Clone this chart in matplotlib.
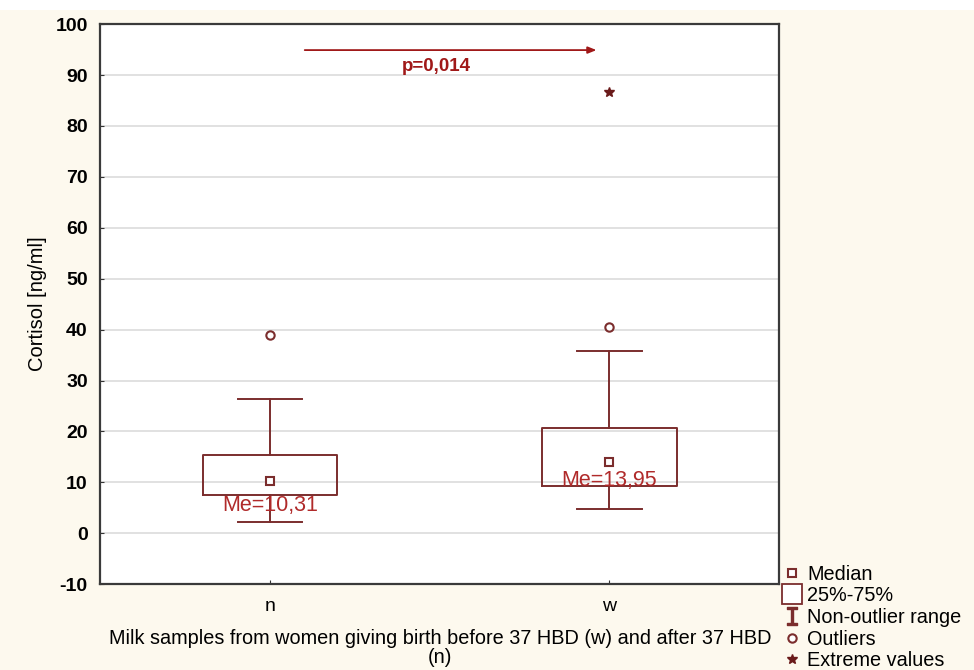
import matplotlib
matplotlib.use("Agg")
import matplotlib.pyplot as plt
from matplotlib.lines import Line2D
from matplotlib.patches import Rectangle

plt.rcParams['font.family'] = ['Liberation Sans', 'DejaVu Sans']
plt.rcParams['axes.unicode_minus'] = False

# donnees
groupes = ["n", "w"]
q1 = [7.6, 9.3]
q3 = [15.4, 20.6]
medianes = [10.31, 13.95]
moust_bas = [2.2, 4.8]
moust_haut = [26.3, 35.9]
outliers = [[38.9], [40.6]]
extremes = [[], [86.6]]
labels_me = ["Me=10,31", "Me=13,95"]
p_texte = "p=0,014"

brun = "#7b2d2d"
rouge = "#b02a2a"

fig = plt.figure(figsize=(9.74, 6.70), dpi=100, facecolor="#fdf9ee")
# bande blanche en haut de l'image
fig.patches.append(Rectangle((0, 0.985), 1, 0.015, transform=fig.transFigure,
                             facecolor="white", edgecolor="none", zorder=0))
ax = fig.add_axes([0.103, 0.128, 0.697, 0.836])
ax.set_facecolor("white")

stats = []
for i in range(len(groupes)):
    stats.append({"med": medianes[i], "q1": q1[i], "q3": q3[i],
                  "whislo": moust_bas[i], "whishi": moust_haut[i],
                  "fliers": outliers[i], "label": groupes[i]})

pos = [1, 2]
ax.bxp(stats, positions=pos, widths=0.395, showfliers=True,
       boxprops=dict(color=brun, linewidth=1.4),
       whiskerprops=dict(color=brun, linewidth=1.4),
       capprops=dict(color=brun, linewidth=1.4),
       medianprops=dict(linewidth=0),
       flierprops=dict(marker="o", markersize=6, markerfacecolor="white",
                       markeredgecolor=brun, markeredgewidth=1.5),
       capwidths=0.19, zorder=3)

# marqueur de la mediane
ax.plot(pos, medianes, ls="none", marker="s", markersize=5.5,
        markerfacecolor="white", markeredgecolor=brun, markeredgewidth=1.5, zorder=4)

# valeurs extremes
for i, ext in enumerate(extremes):
    if ext:
        ax.plot([pos[i]] * len(ext), ext, ls="none", marker="*", markersize=7.5,
                color="#6a1a1a", zorder=4)

# etiquettes des medianes
ax.text(pos[0], q1[0] - 2.1, labels_me[0], color=rouge, fontsize=15.5,
        ha="center", va="center", zorder=5)
ax.text(pos[1], q1[1] + 1.0, labels_me[1], color=rouge, fontsize=15.5,
        ha="center", va="center", zorder=5)

# fleche et p
ax.annotate("", xy=(1.97, 94.9), xytext=(1.094, 94.9),
            arrowprops=dict(arrowstyle="-|>,head_length=0.5,head_width=0.2",
                            color="#a01818", lw=1.3))
ax.text(1.49, 91.6, p_texte, color="#a01818", fontsize=13.5, fontweight="bold",
        ha="center", va="center")

ax.set_xlim(0.5, 2.5)
ax.set_ylim(-10, 100)
ax.set_yticks(range(-10, 101, 10))
ax.set_xticks(pos)
ax.set_xticklabels(groupes)
ax.yaxis.grid(True, color="#dcdcdc", linewidth=1.2)
ax.set_axisbelow(True)
ax.tick_params(axis="both", direction="in", length=3, color="#333333")
ax.tick_params(axis="y", labelsize=14, pad=9)
ax.tick_params(axis="x", labelsize=14, pad=10)
for lab in ax.get_yticklabels():
    lab.set_fontweight("bold")
for sp in ax.spines.values():
    sp.set_color("#3a3a3a")
    sp.set_linewidth(1.6)

ax.set_ylabel("Cortisol [ng/ml]", fontsize=14.5, labelpad=6)
ax.set_xlabel("Milk samples from women giving birth before 37 HBD (w) and after 37 HBD\n(n)",
              fontsize=14.3, labelpad=10, linespacing=1.0)

# legende
poignees = [
    Line2D([], [], ls="none", marker="s", markersize=5.5, markerfacecolor="white",
           markeredgecolor=brun, markeredgewidth=1.5),
    Line2D([], [], ls="none", marker="s", markersize=14, markerfacecolor="white",
           markeredgecolor=brun, markeredgewidth=1.3),
    Line2D([], [], ls="none", marker="$\\mathtt{I}$", markersize=13, color=brun),
    Line2D([], [], ls="none", marker="o", markersize=6, markerfacecolor="white",
           markeredgecolor=brun, markeredgewidth=1.5),
    Line2D([], [], ls="none", marker="*", markersize=7.5, color="#6a1a1a"),
]
noms = ["Median", "25%-75%", "Non-outlier range", "Outliers", "Extreme values"]
fig.legend(poignees, noms, loc="upper left", bbox_to_anchor=(0.803, 0.157),
           frameon=False, fontsize=14.3, handlelength=1.0, handletextpad=0.25,
           labelspacing=0.13, borderaxespad=0, borderpad=0)

fig.savefig("out.png", dpi=100, facecolor=fig.get_facecolor())
